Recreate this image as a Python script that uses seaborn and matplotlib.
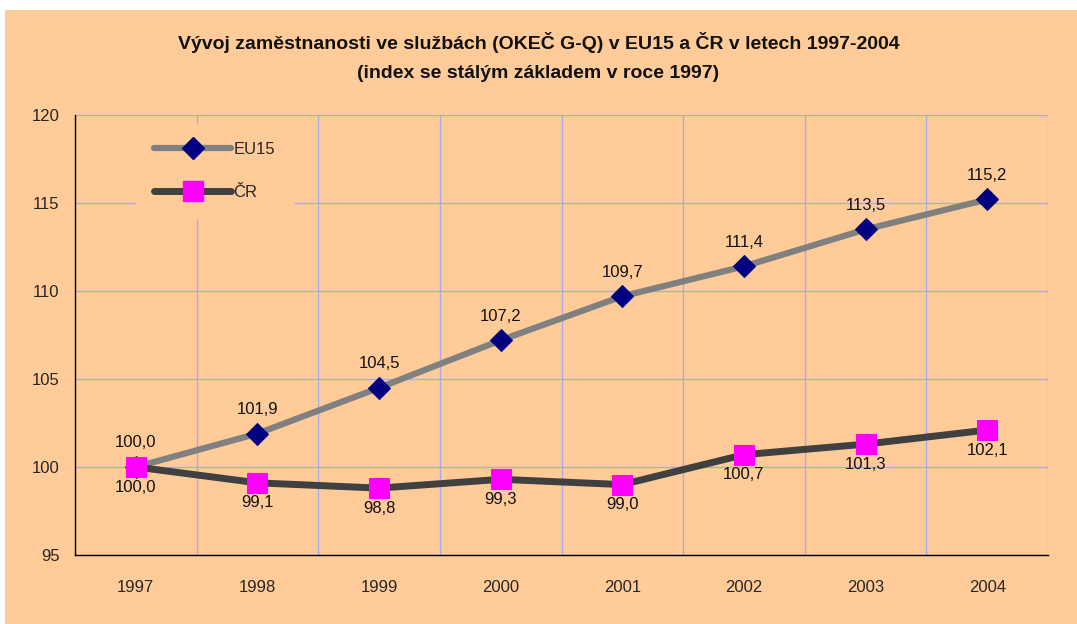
import numpy as np
import pandas as pd
import matplotlib.pyplot as plt
import seaborn as sns
from matplotlib.lines import Line2D
from matplotlib.patches import Rectangle

years = ['1997', '1998', '1999', '2000', '2001', '2002', '2003', '2004']
eu15 = [100.0, 101.9, 104.5, 107.2, 109.7, 111.4, 113.5, 115.2]
cr = [100.0, 99.1, 98.8, 99.3, 99.0, 100.7, 101.3, 102.1]
series_names = ['EU15', 'ČR']
title = 'Vývoj zaměstnanosti ve službách (OKEČ G-Q) v EU15 a ČR v letech 1997-2004\n(index se stálým základem v roce 1997)'

PEACH = '#FFCC99'
GRID = '#A9A9F2'


def fmt(v):
    return f'{v:.1f}'.replace('.', ',')


def plot_chart():
    sns.set_style('white')
    plt.rcParams['font.family'] = ['Liberation Sans', 'DejaVu Sans']

    fig = plt.figure(figsize=(10.77, 6.24), dpi=100)
    fig.patch.set_facecolor('white')
    fig.patches.append(Rectangle((5 / 1077, 0), 1, 1 - 10 / 624, transform=fig.transFigure,
                                 facecolor=PEACH, edgecolor='none', zorder=-10))
    ax = fig.add_axes([75 / 1077, 1 - 555 / 624, (1048 - 75) / 1077, (555 - 115) / 624])
    ax.set_facecolor(PEACH)

    xpos = np.arange(len(years))
    sns.lineplot(x=xpos, y=eu15, ax=ax, color='#808080', linewidth=4.5, marker='D',
                 markersize=11, markerfacecolor='#000080', markeredgecolor='#000080', zorder=3)
    sns.lineplot(x=xpos, y=cr, ax=ax, color='#404040', linewidth=5, marker='s',
                 markersize=14, markerfacecolor='#FF00FF', markeredgecolor='#FF00FF', zorder=4)

    for x, v in zip(xpos, eu15):
        ax.annotate(fmt(v), (x, v), xytext=(0, 12), textcoords='offset points',
                    ha='center', va='bottom', fontsize=12, color='#111111')
    for x, v in zip(xpos, cr):
        ax.annotate(fmt(v), (x, v), xytext=(0, -9), textcoords='offset points',
                    ha='center', va='top', fontsize=12, color='#111111')

    ax.set_xlim(-0.5, len(years) - 0.5)
    ax.set_ylim(95, 120)
    ax.set_yticks(np.arange(95, 121, 5))
    ax.set_xticks(xpos)
    ax.set_xticklabels(years, fontsize=12)
    ax.set_xticks(np.arange(-0.5, len(years)), minor=True)
    ax.tick_params(axis='x', which='major', length=0, pad=18)
    ax.tick_params(axis='x', which='minor', length=6, width=1, color='black', direction='out')
    ax.tick_params(axis='y', length=6, width=1, color='black', direction='out', labelsize=12, pad=5)
    ax.xaxis.grid(True, which='minor', color=GRID, linewidth=1)
    ax.yaxis.grid(True, color=GRID, linewidth=1)
    ax.set_axisbelow(True)
    for side in ['top', 'right']:
        ax.spines[side].set_visible(False)
    for side in ['left', 'bottom']:
        ax.spines[side].set_color('black')
        ax.spines[side].set_linewidth(1)

    handles = [
        Line2D([], [], color='#808080', linewidth=4.5, marker='D', markersize=11,
               markerfacecolor='#000080', markeredgecolor='#000080'),
        Line2D([], [], color='#404040', linewidth=5, marker='s', markersize=14,
               markerfacecolor='#FF00FF', markeredgecolor='#FF00FF'),
    ]
    leg = ax.legend(handles, series_names, loc='upper left', bbox_to_anchor=(0.061, 0.984),
                    frameon=True, facecolor=PEACH, edgecolor=PEACH, framealpha=1,
                    fontsize=12, handlelength=4.6, handletextpad=0.15, labelspacing=1.65,
                    borderpad=1.1, borderaxespad=0.1, fancybox=False)
    leg.set_zorder(5)

    fig.text(0.5, 1 - 57 / 624, title, ha='center', va='center', fontsize=14,
             fontweight='bold', linespacing=1.85, color='#111111')

    fig.savefig('out.png', dpi=100, facecolor=fig.get_facecolor())


if __name__ == '__main__':
    plot_chart()
